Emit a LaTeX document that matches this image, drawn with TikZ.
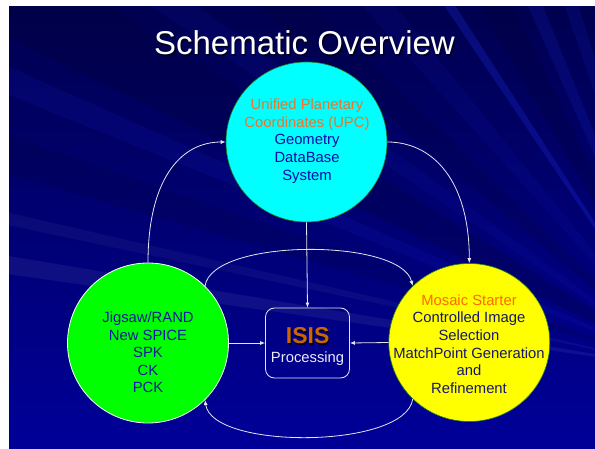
\documentclass[tikz,border=0pt]{standalone}
\usepackage{fontspec}
\setmainfont{Liberation Sans}
\usetikzlibrary{shapes.geometric,arrows.meta}

\definecolor{bgtop}{HTML}{000050}
\definecolor{bgbot}{HTML}{000098}
\definecolor{raylight}{HTML}{2030F0}
\definecolor{raydark}{HTML}{000035}
\definecolor{upccyan}{HTML}{00FFFF}
\definecolor{jiggreen}{HTML}{00FF00}
\definecolor{mosyellow}{HTML}{FFFF00}
\definecolor{rimgreen}{HTML}{1E7A1E}
\definecolor{headorange}{HTML}{E8762C}
\definecolor{mosorange}{HTML}{FF6A00}
\definecolor{isisorange}{HTML}{CC6600}
\definecolor{txtblue}{HTML}{0A0AA8}
\definecolor{txtgreenblue}{HTML}{1818A0}
\definecolor{txtnavy}{HTML}{16166E}
\definecolor{wire}{HTML}{E6E6F0}

\tikzset{
  bubble/.style={ellipse, inner sep=0pt, minimum width=161pt, minimum height=160pt},
  bubbletext/.style={align=center, font=\fontsize{14.8}{17.7}\selectfont, inner sep=0pt},
  conn/.style={draw=wire, line width=0.8pt, -{Latex[length=5pt,width=4pt]}},
  lightray/.style={fill=raylight, opacity=#1},
  darkray/.style={fill=raydark, opacity=#1},
}

\begin{document}
\begin{tikzpicture}[x=1pt,y=-1pt]
\useasboundingbox (0,0) rectangle (595,449);
\fill[white] (0,0) rectangle (595,449);

% slide background with faint rays fanning out from the right
\begin{scope}
  \clip (9,7) rectangle (595,448);
  \shade[top color=bgtop, bottom color=bgbot] (9,7) rectangle (595,448);
  \coordinate (F) at (690,370);
  \fill[darkray=0.25] (F) -- +(206:1200) -- +(212:1200) -- cycle;
  \fill[darkray=0.20] (F) -- +(220:1200) -- +(224:1200) -- cycle;
  \fill[darkray=0.25] (F) -- +(240:1200) -- +(244:1200) -- cycle;
  \fill[darkray=0.18] (F) -- +(196:1200) -- +(199:1200) -- cycle;
  \fill[lightray=0.10] (F) -- +(202:1200) -- +(204:1200) -- cycle;
  \fill[lightray=0.08] (F) -- +(214:1200) -- +(216.5:1200) -- cycle;
  \fill[lightray=0.08] (F) -- +(228:1200) -- +(231:1200) -- cycle;
  \fill[lightray=0.25] (F) -- +(236:1200) -- +(237.2:1200) -- cycle;
  \fill[lightray=0.15] (F) -- +(246:1200) -- +(248:1200) -- cycle;
  \fill[lightray=0.12] (F) -- +(251:1200) -- +(253:1200) -- cycle;
  \fill[white, opacity=0.06] (F) -- +(188:1200) -- +(189.5:1200) -- cycle;
  \fill[white, opacity=0.04] (F) -- +(192:1200) -- +(193:1200) -- cycle;
\end{scope}

% title with a soft drop shadow
\node[anchor=base, text=black, opacity=0.6, font=\fontsize{33}{40}\selectfont] at (306,56.5) {Schematic Overview};
\node[anchor=base, text=white, font=\fontsize{33}{40}\selectfont] (title) at (304.5,55) {Schematic Overview};

% the three bubbles and the ISIS box
\node[bubble, fill=upccyan, draw=rimgreen, line width=0.6pt] (upc) at (306.5,142) {};
\node[bubble, fill=jiggreen, draw=white, line width=0.8pt] (jig) at (148,343) {};
\node[bubble, fill=mosyellow, draw=rimgreen, line width=0.6pt, minimum height=158pt] (mos) at (469.3,342.5) {};
\node[draw=wire, line width=0.8pt, rounded corners=9pt, minimum width=84pt, minimum height=70pt, inner sep=0pt] (isis) at (307.5,343) {};

% bubble labels
\node[bubbletext] (upctxt) at (307,141)
  {\textcolor{headorange}{Unified Planetary}\\
   \textcolor{headorange}{Coordinates (UPC)}\\
   \textcolor{txtblue}{Geometry}\\
   \textcolor{txtblue}{DataBase}\\
   \textcolor{txtblue}{System}};
\node[bubbletext, text=txtgreenblue, font=\fontsize{14.8}{17.5}\selectfont] (jigtxt) at (148,352.5)
  {Jigsaw/RAND\\ New SPICE\\ SPK\\ CK\\ PCK};
\node[bubbletext, text=txtnavy] (mostxt) at (469,344)
  {\textcolor{mosorange}{Mosaic Starter}\\
   Controlled Image\\
   Selection\\
   MatchPoint Generation\\
   and\\
   Refinement};

% ISIS box labels
\node[text=black, opacity=0.7, font=\bfseries\fontsize{23}{26}\selectfont, inner sep=0pt] at (308.6,337.2) {ISIS};
\node[text=isisorange, font=\bfseries\fontsize{23}{26}\selectfont, inner sep=0pt] (isislbl) at (307.6,336) {ISIS};
\node[text=white!92!blue, font=\fontsize{14.8}{17}\selectfont, inner sep=0pt] (proclbl) at (307.6,359) {Processing};

% connectors
\draw[conn] (jig.north) .. controls +(0,-82) and +(-46,0) .. (upc.west);
\draw[conn] (upc.east) .. controls +(46,0) and +(0,-82) .. (mos.north);
\draw[conn] (upc.south) -- (isis.north);
\draw[conn] (jig.east) -- (isis.west);
\draw[conn] (mos.west) -- (isis.east);
\draw[conn] (jig.45) .. controls +(7,-48) and +(-12,-48) .. (mos.135);
\draw[conn] (mos.225) .. controls +(-7,50) and +(7,50) .. (jig.-45);
\end{tikzpicture}
\end{document}
